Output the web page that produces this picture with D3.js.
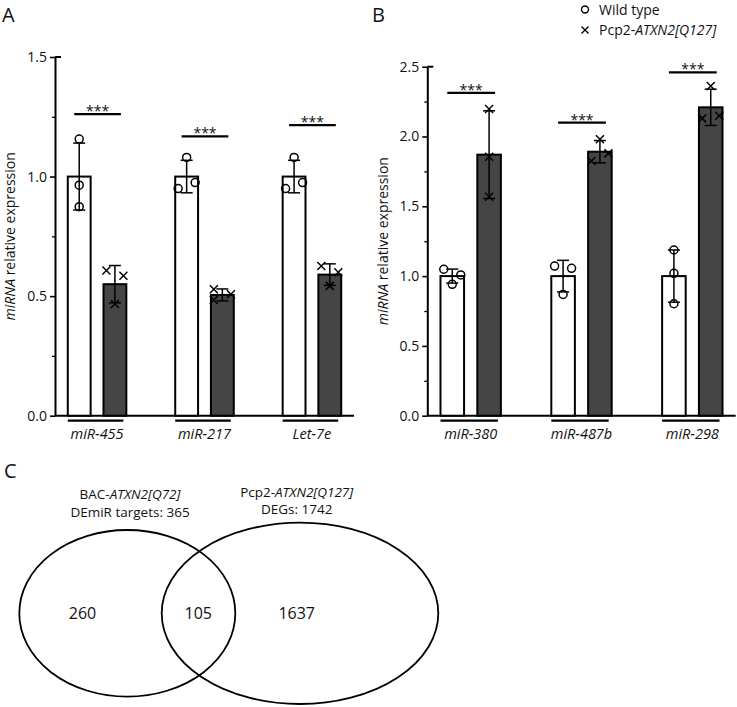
<!DOCTYPE html>
<html><head><meta charset="utf-8">
<script src="https://cdn.jsdelivr.net/npm/d3@7"></script>
<style>
body{margin:0;background:#fff;}
svg{display:block;font-family:"Open Sans",sans-serif;}
</style></head>
<body><svg id="chart" width="737" height="707"></svg>
<script>
// ---------- Data ----------
const catsA = ["miR-455", "miR-217", "Let-7e"];
const wtMeanA = [1.0, 1.0, 1.0];
const wtErrA = [0.14, 0.068, 0.068];
const wtPtsA = [[1.157, 0.964, 0.874], [1.08, 0.95, 0.975], [1.08, 0.95, 0.975]];
const wtJitA = [[0, 0, 0], [0, -1, 1], [0, -1, 1]];
const mutMeanA = [0.55, 0.505, 0.59];
const mutErrA = [0.078, 0.025, 0.045];
const mutPtsA = [[0.607, 0.585, 0.467], [0.529, 0.484, 0.508], [0.626, 0.6, 0.543]];
const mutJitA = [[-1, 1, 0], [-1, -1, 1], [-1, 1, 0]];
const sigA = [1.261, 1.168, 1.215];
const ticksA = [0, 0.5, 1.0, 1.5];
const minorA = [0.25, 0.75, 1.25];

const catsB = ["miR-380", "miR-487b", "miR-298"];
const wtMeanB = [1.0, 1.0, 1.0];
const wtErrB = [0.05, 0.113, 0.187];
const wtPtsB = [[1.049, 1.008, 0.941], [1.072, 1.056, 0.869], [1.187, 1.02, 0.802]];
const wtJitB = [[-1, 1, 0], [-1, 1, 0], [0, 0, 0]];
const mutMeanB = [1.87, 1.891, 2.209];
const mutErrB = [0.314, 0.08, 0.13];
const mutPtsB = [[2.197, 1.855, 1.569], [1.98, 1.824, 1.879], [2.362, 2.13, 2.149]];
const mutJitB = [[0, 0, 0], [0, -1, 1], [0, -1, 1]];
const sigB = [2.312, 2.099, 2.46];
const ticksB = [0, 0.5, 1.0, 1.5, 2.0, 2.5];
const minorB = [0.25, 0.75, 1.25, 1.75, 2.25];

const sigLabel = "***";
const legendLabels = ["Wild type", "Pcp2-", "ATXN2[Q127]"];
const vennSets = [["BAC-", "ATXN2[Q72]", "DEmiR targets: 365"], ["Pcp2-", "ATXN2[Q127]", "DEGs: 1742"]];
const vennCounts = [260, 105, 1637];

// ---------- Drawing ----------
const svg = d3.select("#chart");
const BAR_FILL = "#454545";

function panel(o) {
  const g = svg.append("g");
  const y = d3.scaleLinear().domain([0, o.ymax]).range([415.7, o.ytop]);
  const x = d3.scaleBand().domain(o.cats).range([o.x0, o.x1]).paddingInner(0.455).paddingOuter(0.119);
  const sub = d3.scaleBand().domain(["wt", "mut"]).range([0, x.bandwidth()]).paddingInner(0.36);

  // axis
  const ax = d3.axisLeft(y).tickValues(o.ticks).tickFormat(d3.format(".1f")).tickSize(5).tickSizeOuter(0).tickPadding(3);
  const axg = g.append("g").attr("transform", `translate(${o.x0},0)`).call(ax);
  axg.select(".domain").attr("stroke-width", 2);
  axg.selectAll(".tick line").attr("stroke-width", 1.6);
  axg.selectAll(".tick text").attr("font-size", 14).attr("font-family", "Open Sans").attr("fill", "#111");
  const axm = d3.axisLeft(y).tickValues(o.minor).tickFormat("").tickSize(3).tickSizeOuter(0);
  const axmg = g.append("g").attr("transform", `translate(${o.x0},0)`).call(axm);
  axmg.select(".domain").remove();
  axmg.selectAll(".tick line").attr("stroke-width", 1.3);
  // top hook
  g.append("line").attr("x1", o.x0).attr("x2", o.x0 + 6).attr("y1", y(o.ymax)).attr("y2", y(o.ymax))
    .attr("stroke", "#000").attr("stroke-width", 2);
  // baseline
  g.append("line").attr("x1", o.x0).attr("x2", o.x1).attr("y1", y(0)).attr("y2", y(0))
    .attr("stroke", "#000").attr("stroke-width", 2);

  // y label
  const yl = g.append("text").attr("transform", `translate(${o.ylx},${(y(0) + y(o.ymax)) / 2}) rotate(-90)`)
    .attr("text-anchor", "middle").attr("font-size", 14).attr("fill", "#111");
  yl.append("tspan").attr("font-style", "italic").text("miRNA");
  yl.append("tspan").text(" relative expression");

  const series = [
    {key: "wt", mean: o.wtMean, err: o.wtErr, pts: o.wtPts, jit: o.wtJit, fill: "#fff"},
    {key: "mut", mean: o.mutMean, err: o.mutErr, pts: o.mutPts, jit: o.mutJit, fill: BAR_FILL}
  ];
  const bw = sub.bandwidth();
  series.forEach(s => {
    const cx = i => x(o.cats[i]) + sub(s.key) + bw / 2;
    // bars
    g.selectAll(null).data(o.cats).enter().append("rect")
      .attr("x", (d, i) => x(d) + sub(s.key)).attr("width", bw)
      .attr("y", (d, i) => y(s.mean[i])).attr("height", (d, i) => y(0) - y(s.mean[i]))
      .attr("fill", s.fill).attr("stroke", "#000").attr("stroke-width", 2);
    // error bars
    o.cats.forEach((d, i) => {
      const hi = y(s.mean[i] + s.err[i]), lo = y(s.mean[i] - s.err[i]);
      g.append("line").attr("x1", cx(i)).attr("x2", cx(i)).attr("y1", hi).attr("y2", lo)
        .attr("stroke", "#000").attr("stroke-width", 1.5);
      [hi, lo].forEach(yy => g.append("line").attr("x1", cx(i) - 6).attr("x2", cx(i) + 6)
        .attr("y1", yy).attr("y2", yy).attr("stroke", "#000").attr("stroke-width", 1.5));
    });
    // points
    o.cats.forEach((d, i) => {
      s.pts[i].forEach((v, j) => {
        const px = cx(i) + s.jit[i][j] * 8.5, py = y(v);
        if (s.key === "wt") {
          g.append("circle").attr("cx", px).attr("cy", py).attr("r", 4)
            .attr("fill", "none").attr("stroke", "#000").attr("stroke-width", 1.5);
        } else {
          const r = 4;
          g.append("path").attr("d", `M${px - r},${py - r}L${px + r},${py + r}M${px - r},${py + r}L${px + r},${py - r}`)
            .attr("stroke", "#000").attr("stroke-width", 1.5).attr("fill", "none");
        }
      });
    });
  });

  // significance
  o.cats.forEach((d, i) => {
    const xa = x(d) + sub("wt") + bw / 2 - 5, xb = x(d) + sub("mut") + bw / 2 + 6;
    g.append("line").attr("x1", xa).attr("x2", xb).attr("y1", y(o.sig[i])).attr("y2", y(o.sig[i]))
      .attr("stroke", "#000").attr("stroke-width", 2.2);
    g.append("text").attr("x", (xa + xb) / 2).attr("y", y(o.sig[i]) + 2).attr("text-anchor", "middle")
      .attr("font-size", 14).attr("fill", "#111").text(sigLabel);
  });

  // category underline and labels
  o.cats.forEach((d) => {
    g.append("line").attr("x1", x(d)).attr("x2", x(d) + x.bandwidth() - 3).attr("y1", 420.7).attr("y2", 420.7)
      .attr("stroke", "#000").attr("stroke-width", 2.2);
    g.append("text").attr("x", x(d) + x.bandwidth() / 2).attr("y", 438.5).attr("text-anchor", "middle")
      .attr("font-size", 14.5).attr("font-style", "italic").attr("fill", "#111").text(d);
  });
}

panel({cats: catsA, ymax: 1.5, ytop: 57, x0: 55, x1: 354, ylx: 15, ticks: ticksA, minor: minorA,
  wtMean: wtMeanA, wtErr: wtErrA, wtPts: wtPtsA, wtJit: wtJitA,
  mutMean: mutMeanA, mutErr: mutErrA, mutPts: mutPtsA, mutJit: mutJitA, sig: sigA});
panel({cats: catsB, ymax: 2.5, ytop: 66.7, x0: 427.3, x1: 735.7, ylx: 388, ticks: ticksB, minor: minorB,
  wtMean: wtMeanB, wtErr: wtErrB, wtPts: wtPtsB, wtJit: wtJitB,
  mutMean: mutMeanB, mutErr: mutErrB, mutPts: mutPtsB, mutJit: mutJitB, sig: sigB});

// panel letters
[["A", 2, 22], ["B", 372, 22], ["C", 4, 478]].forEach(([t, px, py]) =>
  svg.append("text").attr("x", px).attr("y", py).attr("font-size", 20).attr("fill", "#111").text(t));

// legend
const lg = svg.append("g");
lg.append("circle").attr("cx", 585).attr("cy", 9.5).attr("r", 3.5).attr("fill", "none").attr("stroke", "#000").attr("stroke-width", 1.4);
lg.append("text").attr("x", 599).attr("y", 14.5).attr("font-size", 14).attr("fill", "#111").text(legendLabels[0]);
{
  const px = 585, py = 30, r = 3.5;
  lg.append("path").attr("d", `M${px - r},${py - r}L${px + r},${py + r}M${px - r},${py + r}L${px + r},${py - r}`)
    .attr("stroke", "#000").attr("stroke-width", 1.4);
  const t = lg.append("text").attr("x", 599).attr("y", 35.2).attr("font-size", 14).attr("fill", "#111");
  t.append("tspan").text(legendLabels[1]);
  t.append("tspan").attr("font-style", "italic").text(legendLabels[2]);
}

// Venn
const vg = svg.append("g");
const ell = [{cx: 127.3, cy: 613.3, rx: 108, ry: 83.3, tx: 130, ty: [499, 516.7]},
             {cx: 300, cy: 613.3, rx: 138.3, ry: 90.7, tx: 296.7, ty: [497.3, 514.3]}];
ell.forEach((e, i) => {
  vg.append("ellipse").attr("cx", e.cx).attr("cy", e.cy).attr("rx", e.rx).attr("ry", e.ry)
    .attr("fill", "none").attr("stroke", "#000").attr("stroke-width", 1.8);
  const t1 = vg.append("text").attr("x", e.tx).attr("y", e.ty[0]).attr("text-anchor", "middle").attr("font-size", 13.5).attr("fill", "#111");
  t1.append("tspan").text(vennSets[i][0]);
  t1.append("tspan").attr("font-style", "italic").text(vennSets[i][1]);
  vg.append("text").attr("x", e.tx).attr("y", e.ty[1]).attr("text-anchor", "middle").attr("font-size", 13.5).attr("fill", "#111").text(vennSets[i][2]);
});
const countX = [82.5, 198.3, 296.7];
vennCounts.forEach((c, i) => vg.append("text").attr("x", countX[i]).attr("y", 619).attr("text-anchor", "middle")
  .attr("font-size", 16).attr("fill", "#111").text(c));
</script></body></html>
